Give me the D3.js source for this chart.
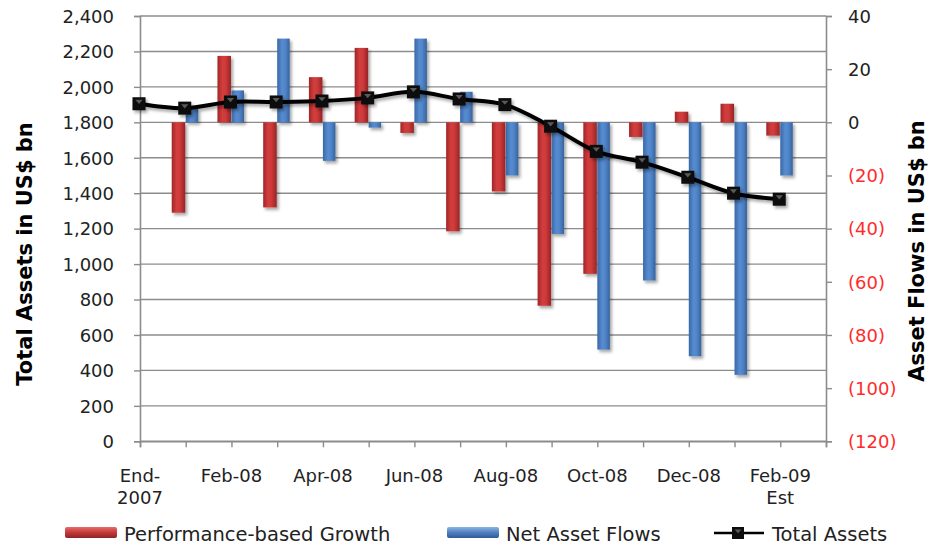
<!DOCTYPE html>
<html><head><meta charset="utf-8">
<script src="https://cdn.jsdelivr.net/npm/d3@7"></script>
<style>
html,body{margin:0;padding:0;background:#fff;}
svg{display:block;}
text{font-family:"DejaVu Sans",Verdana,sans-serif;}
</style></head>
<body>
<svg id="chart" width="928" height="544"></svg>
<script>
// ---- data ----
const categories = ["End-2007","Jan-08","Feb-08","Mar-08","Apr-08","May-08","Jun-08","Jul-08","Aug-08","Sep-08","Oct-08","Nov-08","Dec-08","Jan-09","Feb-09 Est"];
const tickLabels = [["End-","2007"],null,["Feb-08"],null,["Apr-08"],null,["Jun-08"],null,["Aug-08"],null,["Oct-08"],null,["Dec-08"],null,["Feb-09","Est"]];
const totalAssets = [1905, 1880, 1915, 1915, 1920, 1938, 1972, 1932, 1900, 1778, 1636, 1575, 1490, 1400, 1366];
const performanceGrowth = [null, -34, 25, -32, 17, 28, -4, -41, -26, -69, -57, -5.5, 4, 7, -5];
const netAssetFlows = [null, 5, 12, 31.5, -14.5, -2, 31.5, 11.5, -20, -42, -85.5, -59.5, -88, -95, -20];
const leftTicks = d3.range(0, 2401, 200);
const rightTicks = d3.range(-120, 41, 20);
const seriesNames = ["Performance-based Growth", "Net Asset Flows", "Total Assets"];

// ---- layout ----
const L = 140, R = 826, T = 16, B = 441.3;
const svg = d3.select("#chart");
const x = d3.scaleLinear().domain([0, categories.length]).range([L, R]);
const yL = d3.scaleLinear().domain([0, 2400]).range([B, T]);
const yR = d3.scaleLinear().domain([-120, 40]).range([B, T]);

const defs = svg.append("defs");
function hgrad(id, stops){
  const g = defs.append("linearGradient").attr("id", id).attr("x1","0").attr("x2","1").attr("y1","0").attr("y2","0");
  stops.forEach(s => g.append("stop").attr("offset", s[0]).attr("stop-color", s[1]));
}
hgrad("gRed", [[0,"#9f2628"],[0.35,"#d23c3c"],[0.6,"#cf3a3a"],[1,"#972426"]]);
hgrad("gBlue", [[0,"#3a68a6"],[0.4,"#568cd0"],[0.65,"#5084c8"],[1,"#37629c"]]);
function vgrad(id, stops){
  const g = defs.append("linearGradient").attr("id", id).attr("x1","0").attr("x2","0").attr("y1","0").attr("y2","1");
  stops.forEach(s => g.append("stop").attr("offset", s[0]).attr("stop-color", s[1]));
}
vgrad("lRed", [[0,"#e86a6a"],[0.5,"#c23a3a"],[1,"#8e2426"]]);
vgrad("lBlue", [[0,"#8db3e2"],[0.5,"#4f81c0"],[1,"#2f5a94"]]);
const f = defs.append("filter").attr("id","sh").attr("x","-30%").attr("y","-30%").attr("width","160%").attr("height","160%");
f.append("feDropShadow").attr("dx",2).attr("dy",2.5).attr("stdDeviation",1.6).attr("flood-color","#000").attr("flood-opacity",0.35);

const gridColor = "#8c8c8c";

// gridlines
svg.append("g").selectAll("line").data(leftTicks).join("line")
  .attr("x1", L).attr("x2", R).attr("y1", d => yL(d)).attr("y2", d => yL(d))
  .attr("stroke", gridColor).attr("stroke-width", 1.4);

// left axis
const axL = svg.append("g").attr("transform", `translate(${L},0)`)
  .call(d3.axisLeft(yL).tickValues(leftTicks).tickFormat(d3.format(",")).tickSize(6).tickPadding(20));
axL.select(".domain").attr("stroke", gridColor).attr("stroke-width", 1.6);
axL.selectAll(".tick line").attr("stroke", gridColor).attr("stroke-width", 1.4);
axL.selectAll(".tick text").attr("font-size", 18).attr("fill", "#222").attr("font-family", "DejaVu Sans").attr("dy","0.35em");

// right axis
const axR = svg.append("g").attr("transform", `translate(${R},0)`)
  .call(d3.axisRight(yR).tickValues(rightTicks).tickFormat(d => d < 0 ? `(${-d})` : d).tickSize(6).tickPadding(16));
axR.select(".domain").attr("stroke", gridColor).attr("stroke-width", 1.6);
axR.selectAll(".tick line").attr("stroke", gridColor).attr("stroke-width", 1.4);
axR.selectAll(".tick text").attr("font-size", 18).attr("font-family", "DejaVu Sans").attr("dy","0.35em")
  .attr("fill", d => d < 0 ? "#ff2b2b" : "#222");

// bottom axis
const axB = svg.append("g").attr("transform", `translate(0,${B})`)
  .call(d3.axisBottom(x).tickValues(d3.range(categories.length + 1)).tickFormat("").tickSize(6));
axB.select(".domain").attr("stroke", gridColor).attr("stroke-width", 1.6);
axB.selectAll(".tick line").attr("stroke", gridColor).attr("stroke-width", 1.4);

// x labels
const xl = svg.append("g");
tickLabels.forEach((lines, i) => {
  if (!lines) return;
  const t = xl.append("text").attr("x", x(i)).attr("y", 482).attr("text-anchor","middle")
    .attr("font-size", 18).attr("fill", "#222");
  lines.forEach((s, k) => t.append("tspan").attr("x", x(i)).attr("dy", k === 0 ? 0 : 22).text(s));
});

// bars
const bars = svg.append("g").attr("filter","url(#sh)");
categories.forEach((c, i) => {
  const p = performanceGrowth[i], n = netAssetFlows[i];
  if (p != null) {
    bars.append("rect").attr("x", x(i) - 14).attr("width", 13.5)
      .attr("y", yR(Math.max(0, p))).attr("height", Math.abs(yR(p) - yR(0)))
      .attr("fill", "url(#gRed)");
  }
  if (n != null) {
    bars.append("rect").attr("x", x(i)).attr("width", 12.5)
      .attr("y", yR(Math.max(0, n))).attr("height", Math.abs(yR(n) - yR(0)))
      .attr("fill", "url(#gBlue)");
  }
});

// line
const lg = svg.append("g").attr("filter","url(#sh)");
const line = d3.line().x((d, i) => x(i) - 1).y(d => yL(d)).curve(d3.curveCatmullRom.alpha(0.5));
lg.append("path").attr("d", line(totalAssets)).attr("fill","none").attr("stroke","#000")
  .attr("stroke-width", 4).attr("stroke-linejoin","round");
function marker(g, cx, cy, s){
  g.append("rect").attr("x", cx - s/2).attr("y", cy - s/2).attr("width", s).attr("height", s).attr("fill","#0d0d0d");
  g.append("path").attr("d", `M${cx - s*0.28},${cy - s*0.3}L${cx + s*0.28},${cy - s*0.3}L${cx},${cy + 0.02*s}Z`).attr("fill","#5a5a5a");
}
totalAssets.forEach((v, i) => marker(lg, x(i) - 1, yL(v), 13));

// axis titles
svg.append("text").attr("transform", "translate(32,254) rotate(-90)").attr("text-anchor","middle")
  .attr("font-size", 21).attr("font-weight","bold").attr("fill","#000").text("Total Assets in US$ bn");
svg.append("text").attr("transform", "translate(924,251) rotate(-90)").attr("text-anchor","middle")
  .attr("font-size", 21).attr("font-weight","bold").attr("fill","#000").text("Asset Flows in US$ bn");

// legend
const lgd = svg.append("g");
lgd.append("rect").attr("x", 65).attr("y", 527).attr("width", 52).attr("height", 11).attr("rx", 2).attr("fill","url(#lRed)");
lgd.append("text").attr("x", 124).attr("y", 540.5).attr("font-size", 19.5).attr("fill","#222").text(seriesNames[0]);
lgd.append("rect").attr("x", 447).attr("y", 527).attr("width", 52).attr("height", 11).attr("rx", 2).attr("fill","url(#lBlue)");
lgd.append("text").attr("x", 506).attr("y", 540.5).attr("font-size", 19.5).attr("fill","#222").text(seriesNames[1]);
lgd.append("line").attr("x1", 714).attr("x2", 764).attr("y1", 533).attr("y2", 533).attr("stroke","#000").attr("stroke-width", 2.5);
marker(lgd, 738, 533, 12);
lgd.append("text").attr("x", 772).attr("y", 540.5).attr("font-size", 19.5).attr("fill","#222").text(seriesNames[2]);
</script>
</body></html>
